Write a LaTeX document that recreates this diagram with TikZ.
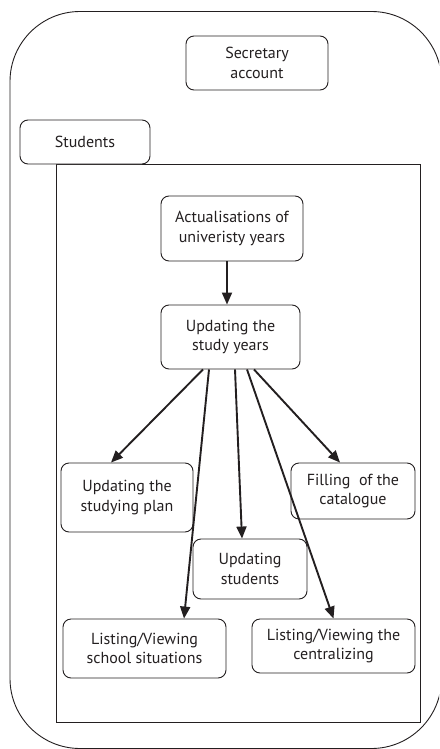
\documentclass[tikz,border=0pt]{standalone}
\usepackage{fontspec}
\setmainfont{PT Sans}
\usetikzlibrary{arrows.meta}
\definecolor{ink}{HTML}{231F20}
\tikzset{
  box/.style={draw=ink, line width=0.9pt, rounded corners=8pt, align=center,
    inner sep=0pt, text=ink, font=\fontsize{16}{19.5}\selectfont},
  flow/.style={draw=ink, line width=1.9pt, -{Triangle[length=12pt,width=10pt]}},
}
\begin{document}
\begin{tikzpicture}[x=1pt,y=-1pt]
  \useasboundingbox (0,0) rectangle (439,749);
  \begin{scope}
    \clip (0,0) rectangle (439,749);
    % outer rounded frame
    \draw[ink, line width=0.9pt, rounded corners=70pt] (10,11.5) rectangle (441.5,748.5);
  \end{scope}
  % inner frame of the student area
  \draw[ink, line width=0.9pt] (56,164) rectangle (420,722);

  \node[box, minimum width=142pt, minimum height=54pt] (sec) at (257,63) {Secretary\\account};
  \node[box, fill=white, minimum width=130pt, minimum height=44pt] (stud) at (85,142) {Students};
  \node[box, minimum width=142pt, minimum height=65pt] (act) at (232,228.5) {Actualisations of\\univeristy years};
  \node[box, minimum width=139pt, minimum height=64pt] (years) at (230.5,337) {Updating the\\study years};
  \node[box, minimum width=132pt, minimum height=69pt] (plan) at (127,497.5) {Updating the\\studying plan};
  \node[box, minimum width=124pt, minimum height=56pt] (fill) at (353,491) {Filling\ \ of the\\catalogue};
  \node[box, minimum width=114pt, minimum height=60pt] (upd) at (250,569) {Updating\\students};
  \node[box, minimum width=163pt, minimum height=59pt] (lsch) at (144.5,648.5) {Listing/Viewing\\school situations};
  \node[box, minimum width=163pt, minimum height=54pt] (lcen) at (333.5,646) {Listing/Viewing the\\centralizing};

  \draw[flow] ([xshift=-5pt]act.south) -- ([xshift=-3.5pt]years.north);
  \draw[flow] ([xshift=-27.5pt]years.south) -- ([xshift=-16pt]plan.north);
  \draw[flow] ([xshift=-21.5pt]years.south) -- ([xshift=39.5pt]lsch.north);
  \draw[flow] ([xshift=4.5pt]years.south) -- ([xshift=-8pt]upd.north);
  \draw[flow] ([xshift=16.5pt]years.south) -- ([xshift=0pt]lcen.north);
  \draw[flow] ([xshift=23.5pt]years.south) -- ([xshift=-13pt]fill.north);
\end{tikzpicture}
\end{document}
